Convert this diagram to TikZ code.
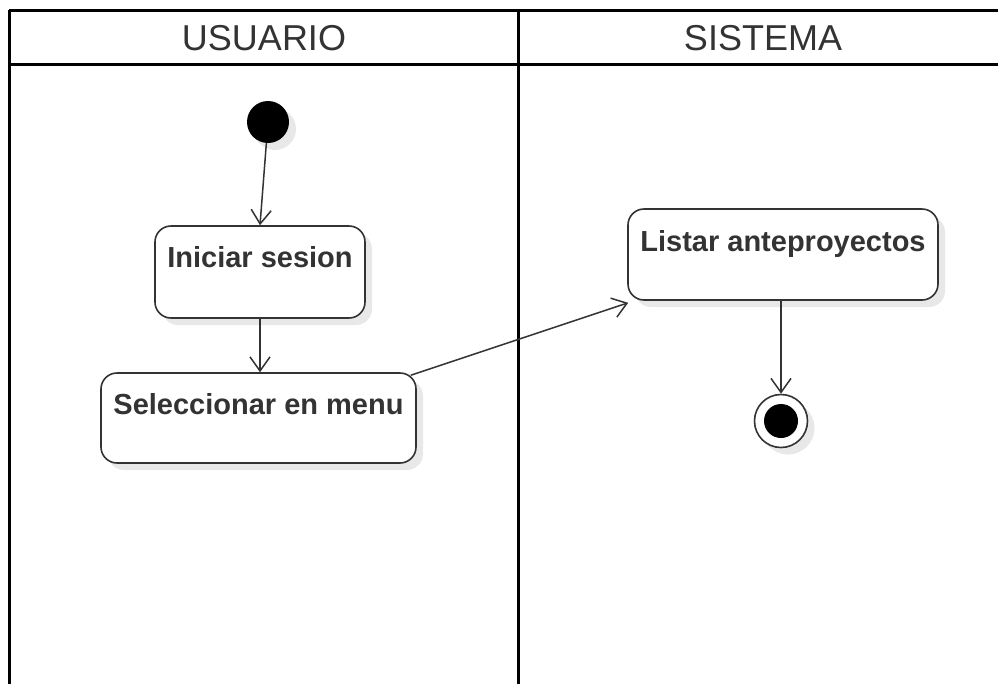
\documentclass[tikz,border=0pt]{standalone}
\usepackage{fontspec}
\setmainfont{Liberation Sans}
\usetikzlibrary{arrows.meta,shadows}
\definecolor{strokec}{HTML}{333333}
\definecolor{shadowc}{HTML}{E8E8E8}
\begin{document}
\begin{tikzpicture}[x=1pt,y=-1pt,
  lane/.style={line width=3pt, draw=black},
  hdr/.style={font=\fontsize{36}{42}\selectfont, text=strokec, inner sep=0pt},
  shad/.style={drop shadow={shadow xshift=7pt, shadow yshift=-7pt, fill=shadowc, opacity=1}},
  act/.style={draw=strokec, line width=1.6pt, rounded corners=16pt, fill=white, shad, inner sep=0pt},
  acttext/.style={font=\bfseries\fontsize{29}{34}\selectfont, text=strokec, inner sep=0pt, anchor=base},
  flow/.style={draw=strokec, line width=1.5pt, -{Straight Barb[length=14pt,width=20pt,line width=1.5pt]}}
]
\useasboundingbox (0,0) rectangle (998,683);
\clip (0,0) rectangle (998,683);
\fill[white] (0,0) rectangle (998,683);
% swimlanes
\draw[lane] (9,10) -- (1020,10);
\draw[lane] (9,64) -- (1020,64);
\draw[lane] (9,10) -- (9,700);
\draw[lane] (518,10) -- (518,700);
\node[hdr] (h1) at (264,38) {USUARIO};
\node[hdr] (h2) at (763,38) {SISTEMA};
% nodes
\node[circle, fill=black, minimum size=42pt, inner sep=0pt, shad] (start) at (268,122) {};
\node[act, minimum width=210pt, minimum height=92pt,
  label={[acttext, yshift=-42pt]north:Iniciar sesion}] (ini) at (260,272) {};
\node[act, minimum width=315pt, minimum height=90pt,
  label={[acttext, yshift=-42pt]north:Seleccionar en menu}] (sel) at (258.5,418) {};
\node[act, minimum width=310pt, minimum height=91pt,
  label={[acttext, yshift=-43pt]north:Listar anteproyectos}] (lis) at (783,254.5) {};
\node[circle, draw=strokec, line width=1.6pt, fill=white, minimum size=53pt, inner sep=0pt, shad] (endo) at (781,421) {};
\node[circle, fill=black, minimum size=34pt, inner sep=0pt] (endi) at (endo.center) {};
% flows
\draw[flow] (start) -- (ini.north);
\draw[flow] (ini.south) -- (ini.south |- sel.north);
\draw[flow] ([xshift=-6pt,yshift=-3pt]sel.north east) -- ([xshift=1pt,yshift=-2pt]lis.south west);
\draw[flow] (lis.south -| endo.north) -- (endo.north);
\end{tikzpicture}
\end{document}
